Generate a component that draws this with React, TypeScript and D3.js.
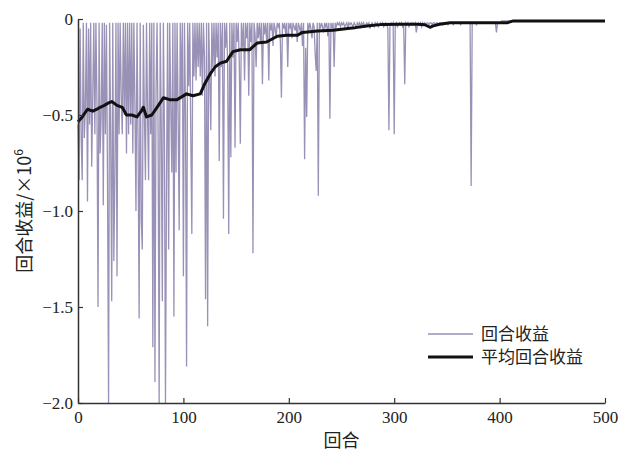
import { useEffect, useRef } from 'react';
import * as d3 from 'd3';

// episode rewards (x10^6), one value per episode 0..499
const episodeRewards: number[] = [
  -0.55, -0.84, -0.05, -0.62, -0.84, -0.02, -0.62, -0.45, -0.02, -0.95,
  -0.05, -0.55, -0.02, -0.77, -0.4, -0.02, -0.6, -0.02, -0.45, -1.5,
  -0.02, -0.7, -0.5, -0.02, -0.97, -0.02, -0.6, -0.03, -0.85, -2.0,
  -0.02, -0.6, -1.47, -0.02, -1.26, -0.8, -0.02, -1.34, -0.02, -0.6,
  -0.02, -0.4, -0.6, -0.02, -0.5, -0.02, -0.7, -0.02, -0.6, -0.02,
  -0.55, -0.02, -0.7, -0.02, -0.45, -1.0, -0.02, -0.65, -1.56, -0.02,
  -1.05, -1.2, -0.03, -0.5, -0.84, -0.02, -0.5, -0.84, -0.02, -0.6,
  -0.02, -1.71, -0.02, -1.89, -0.4, -0.02, -0.6, -2.0, -0.02, -0.55,
  -1.47, -0.02, -0.6, -2.0, -0.85, -0.02, -1.2, -0.02, -0.45, -0.8,
  -0.02, -1.55, -0.02, -0.8, -0.02, -0.5, -1.1, -0.02, -0.4, -0.02,
  -1.34, -0.02, -0.5, -1.81, -0.02, -0.35, -0.02, -0.6, -1.12, -0.02,
  -0.3, -0.02, -0.32, -0.02, -0.25, -0.02, -0.3, -0.02, -0.4, -0.02,
  -0.2, -1.46, -0.02, -1.6, -0.02, -0.3, -0.58, -0.02, -0.25, -0.02,
  -0.3, -0.02, -0.2, -0.02, -0.74, -0.02, -0.25, -0.02, -1.04, -0.02,
  -0.15, -0.02, -0.25, -1.12, -0.02, -0.72, -0.02, -0.2, -0.02, -0.67,
  -0.02, -0.12, -0.02, -0.22, -0.65, -0.02, -0.15, -0.02, -0.32, -0.02,
  -0.1, -0.02, -0.4, -0.02, -0.12, -0.02, -1.22, -0.02, -0.08, -0.25,
  -0.02, -0.1, -0.02, -0.12, -0.02, -0.34, -0.02, -0.08, -0.02, -0.12,
  -0.02, -0.32, -0.02, -0.06, -0.02, -0.14, -0.02, -0.05, -0.1, -0.02,
  -0.04, -0.02, -0.12, -0.41, -0.02, -0.05, -0.02, -0.08, -0.02, -0.25,
  -0.02, -0.05, -0.02, -0.1, -0.02, -0.04, -0.06, -0.02, -0.12, -0.02,
  -0.04, -0.07, -0.02, -0.14, -0.02, -0.73, -0.15, -0.51, -0.02, -0.06,
  -0.02, -0.05, -0.1, -0.02, -0.04, -0.18, -0.27, -0.02, -0.92, -0.02,
  -0.05, -0.02, -0.04, -0.07, -0.02, -0.04, -0.02, -0.09, -0.02, -0.52,
  -0.02, -0.05, -0.02, -0.25, -0.02, -0.04, -0.02, -0.03, -0.02, -0.04,
  -0.02, -0.03, -0.02, -0.04, -0.03, -0.02, -0.05, -0.02, -0.03, -0.02,
  -0.03, -0.04, -0.02, -0.03, -0.05, -0.02, -0.03, -0.02, -0.04, -0.02,
  -0.03, -0.02, -0.04, -0.03, -0.02, -0.03, -0.02, -0.05, -0.03, -0.02,
  -0.03, -0.04, -0.02, -0.03, -0.02, -0.04, -0.03, -0.02, -0.03, -0.02,
  -0.04, -0.03, -0.02, -0.03, -0.05, -0.58, -0.03, -0.02, -0.03, -0.02,
  -0.6, -0.03, -0.02, -0.04, -0.03, -0.02, -0.03, -0.02, -0.04, -0.03,
  -0.34, -0.02, -0.03, -0.02, -0.04, -0.03, -0.02, -0.03, -0.02, -0.03,
  -0.02, -0.07, -0.03, -0.02, -0.03, -0.02, -0.04, -0.02, -0.03, -0.02,
  -0.03, -0.02, -0.02, -0.03, -0.02, -0.02, -0.03, -0.02, -0.02, -0.03,
  -0.02, -0.02, -0.03, -0.02, -0.02, -0.02, -0.03, -0.02, -0.02, -0.02,
  -0.02, -0.03, -0.02, -0.02, -0.02, -0.02, -0.03, -0.02, -0.02, -0.02,
  -0.02, -0.02, -0.02, -0.03, -0.02, -0.02, -0.02, -0.02, -0.02, -0.02,
  -0.02, -0.02, -0.02, -0.87, -0.02, -0.02, -0.02, -0.02, -0.03, -0.02,
  -0.02, -0.02, -0.02, -0.02, -0.02, -0.02, -0.02, -0.02, -0.02, -0.02,
  -0.02, -0.02, -0.02, -0.02, -0.02, -0.02, -0.02, -0.07, -0.02, -0.02,
  -0.02, -0.02, -0.01, -0.01, -0.01, -0.01, -0.01, -0.01, -0.01, -0.01,
  -0.01, -0.01, -0.01, -0.01, -0.01, -0.01, -0.01, -0.01, -0.01, -0.01,
  -0.01, -0.01, -0.01, -0.01, -0.01, -0.01, -0.01, -0.01, -0.01, -0.01,
  -0.01, -0.01, -0.01, -0.01, -0.01, -0.01, -0.01, -0.01, -0.01, -0.01,
  -0.01, -0.01, -0.01, -0.01, -0.01, -0.01, -0.01, -0.01, -0.01, -0.01,
  -0.01, -0.01, -0.01, -0.01, -0.01, -0.01, -0.01, -0.01, -0.01, -0.01,
  -0.01, -0.01, -0.01, -0.01, -0.01, -0.01, -0.01, -0.01, -0.01, -0.01,
  -0.01, -0.01, -0.01, -0.01, -0.01, -0.01, -0.01, -0.01, -0.01, -0.01,
  -0.01, -0.01, -0.01, -0.01, -0.01, -0.01, -0.01, -0.01, -0.01, -0.01,
  -0.01, -0.01, -0.01, -0.01, -0.01, -0.01, -0.01, -0.01, -0.01, -0.01,
];

// average reward, read at [episode, value]
const avgEpisodes = [0, 4, 9, 14, 18, 21, 25, 28, 32, 37, 42, 46, 51, 56, 60, 62, 65, 70, 75, 81, 87, 94, 103, 109, 116, 120, 125, 130, 135, 141, 147, 154, 163, 170, 179, 189, 198, 208, 213, 227, 242, 258, 263, 274, 289, 305, 322, 329, 334, 337, 343, 353, 407, 413, 500];
const avgValues = [-0.535, -0.51, -0.47, -0.48, -0.47, -0.46, -0.45, -0.44, -0.43, -0.45, -0.46, -0.5, -0.5, -0.51, -0.48, -0.46, -0.51, -0.5, -0.46, -0.41, -0.42, -0.42, -0.39, -0.4, -0.39, -0.34, -0.29, -0.25, -0.23, -0.22, -0.17, -0.16, -0.16, -0.125, -0.12, -0.09, -0.085, -0.085, -0.07, -0.062, -0.058, -0.048, -0.045, -0.036, -0.028, -0.027, -0.027, -0.03, -0.043, -0.036, -0.027, -0.02, -0.02, -0.01, -0.01];

const xTicks = [0, 100, 200, 300, 400, 500];
const yTicks = [0, -0.5, -1.0, -1.5, -2.0];
const legendLabels = ['回合收益', '平均回合收益'];

const W = 620;
const H = 453;
const margin = { top: 19, right: 15, bottom: 50, left: 78 };
const rewardColor = '#9a91b6';

const App = () => {
  const svgRef = useRef<SVGSVGElement>(null);

  useEffect(() => {
    const svg = d3.select(svgRef.current);
    svg.selectAll('*').remove();

    const x = d3.scaleLinear().domain([0, 500]).range([margin.left, W - margin.right]);
    const y = d3.scaleLinear().domain([-2, 0]).range([H - margin.bottom, margin.top]);

    const rewardLine = d3.line<number>()
      .x((_, i) => x(i))
      .y(d => y(d));

    svg.append('path')
      .datum(episodeRewards)
      .attr('fill', 'none')
      .attr('stroke', rewardColor)
      .attr('stroke-width', 1.3)
      .attr('d', rewardLine);

    const avgLine = d3.line<number>()
      .x((_, i) => x(avgEpisodes[i]))
      .y(d => y(d));

    svg.append('path')
      .datum(avgValues)
      .attr('fill', 'none')
      .attr('stroke', '#111')
      .attr('stroke-width', 3)
      .attr('stroke-linejoin', 'round')
      .attr('d', avgLine);

    const font = '"Liberation Serif", "DejaVu Serif", serif';

    const xAxis = svg.append('g')
      .attr('transform', `translate(0, ${y(-2)})`)
      .call(d3.axisBottom(x).tickValues(xTicks).tickSizeInner(-5).tickSizeOuter(0).tickPadding(8));

    const yAxis = svg.append('g')
      .attr('transform', `translate(${x(0)}, 0)`)
      .call(d3.axisLeft(y).tickValues(yTicks).tickSizeInner(-5).tickSizeOuter(0).tickPadding(5)
        .tickFormat(d => (+d === 0 ? '0' : d3.format('.1f')(+d))));

    [xAxis, yAxis].forEach(g => {
      g.select('.domain').attr('stroke', '#333').attr('stroke-width', 1.5);
      g.selectAll('.tick line').attr('stroke', '#333').attr('stroke-width', 1.2);
      g.selectAll('.tick text')
        .attr('font-family', font)
        .attr('font-size', 17)
        .attr('fill', '#222');
    });

    svg.append('text')
      .attr('x', (x(0) + x(500)) / 2)
      .attr('y', 447)
      .attr('text-anchor', 'middle')
      .attr('font-family', '"Noto Sans CJK SC", sans-serif')
      .attr('font-size', 18)
      .attr('fill', '#222')
      .text('回合');

    const yTitle = svg.append('text')
      .attr('transform', `translate(31, ${(y(0) + y(-2)) / 2}) rotate(-90)`)
      .attr('text-anchor', 'middle')
      .attr('font-family', '"Noto Sans CJK SC", sans-serif')
      .attr('font-size', 18)
      .attr('fill', '#222');
    yTitle.append('tspan').text('回合收益/×10');
    yTitle.append('tspan').attr('font-size', 12).attr('dy', -8).text('6');

    const legend = svg.append('g').attr('transform', 'translate(428, 334)');
    legendLabels.forEach((label, i) => {
      const row = legend.append('g').attr('transform', `translate(0, ${i * 23})`);
      row.append('line')
        .attr('x1', 0).attr('x2', 45)
        .attr('stroke', i === 0 ? rewardColor : '#111')
        .attr('stroke-width', i === 0 ? 1.3 : 3);
      row.append('text')
        .attr('x', 53)
        .attr('dy', '0.35em')
        .attr('font-family', '"Noto Sans CJK SC", sans-serif')
        .attr('font-size', 17)
        .attr('fill', '#222')
        .text(label);
    });
  }, []);

  return (
    <div style={{ position: 'absolute', left: 0, top: 0 }}>
      <svg ref={svgRef} width={W} height={H} style={{ display: 'block', background: '#fff' }} />
    </div>
  );
};

export default App;
